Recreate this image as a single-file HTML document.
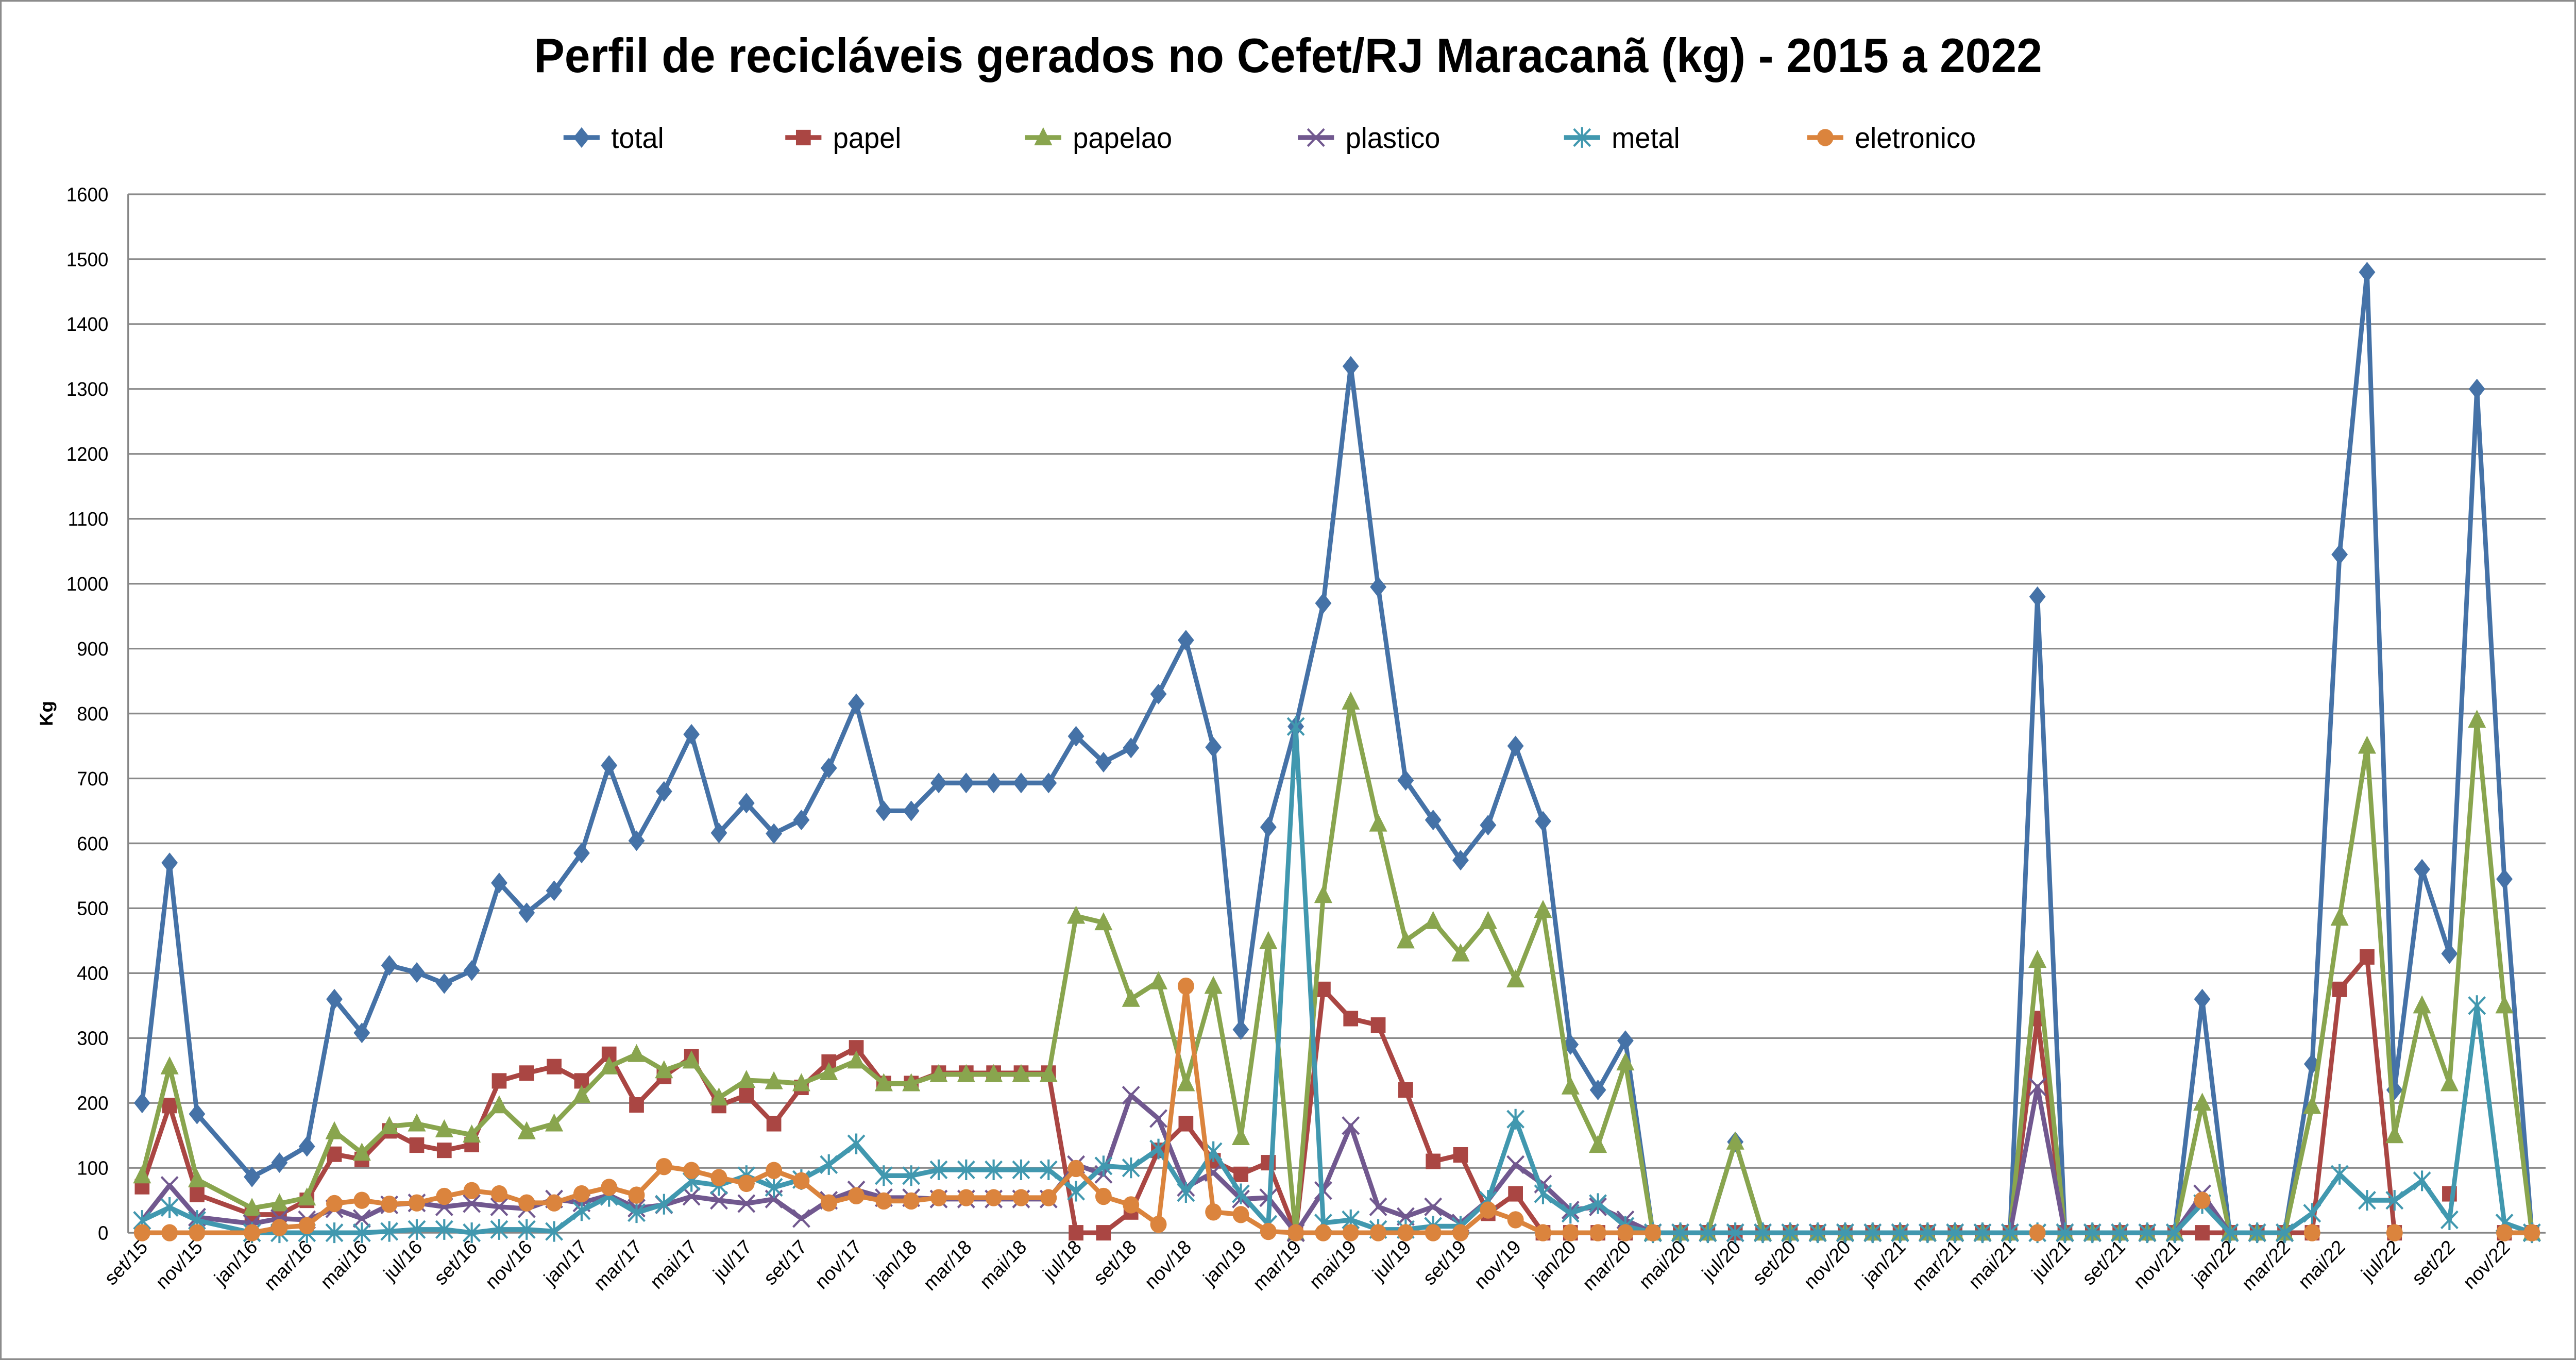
<!DOCTYPE html>
<html><head><meta charset="utf-8"><style>
html,body{margin:0;padding:0;background:#fff;overflow:hidden;width:100%;height:100%;}
svg{display:block;position:fixed;left:0;top:0;width:100vw;height:100vh;}
</style></head><body>
<svg id="c" xmlns="http://www.w3.org/2000/svg" viewBox="0 0 1568 791" preserveAspectRatio="none" font-family="Liberation Sans, sans-serif">
<rect x="0.5" y="0.5" width="1567" height="790" fill="#fff" stroke="#8c8c8c" stroke-width="1"/>
<text x="784" y="42" text-anchor="middle" font-size="28" font-weight="bold">Perfil de recicláveis gerados no Cefet/RJ Maracanã (kg) - 2015 a 2022</text>
<text transform="translate(32,415) rotate(-90)" text-anchor="middle" font-size="11" font-weight="bold">Kg</text>
<g id="grid"></g><g id="ser"></g><g id="leg"></g>
</svg>
<script>
var NS="http://www.w3.org/2000/svg";
function el(t,a,p,txt){var e=document.createElementNS(NS,t);for(var k in a)e.setAttribute(k,a[k]);if(txt!=null)e.textContent=txt;p.appendChild(e);return e;}
function X(i){return 86.5+16.72*i;}
function Y(v){return 717-v*0.3775;}
var g=document.getElementById('grid');
for(var v=0;v<=1600;v+=100){
 el('line',{x1:78,x2:1549.5,y1:Y(v),y2:Y(v),stroke:v==0?'#868686':'#8a8a8a','stroke-width':1},g);
 el('text',{x:66,y:Y(v)+4,'text-anchor':'end','font-size':11.5},g,String(v));
}
el('line',{x1:78,x2:78,y1:Y(1600),y2:717,stroke:'#868686','stroke-width':1},g);
var mn=['jan','fev','mar','abr','mai','jun','jul','ago','set','out','nov','dez'];
for(var i=0;i<88;i+=2){var m=(8+i)%12,yr=15+Math.floor((8+i)/12);
 var x=X(i)+4,y=726;
 el('text',{x:x,y:y,'text-anchor':'end','font-size':11.5,transform:'rotate(-45 '+x+' '+y+')'},g,mn[m]+'/'+yr);
}
function Z(n){var a=[];for(var k=0;k<n;k++)a.push(0);return a;}
function N(n){var a=[];for(var k=0;k<n;k++)a.push(null);return a;}
function mid(sp){var a=Z(23);for(var k in sp)a[k-56]=sp[k];return a;}
var total=[200,570,183,null,86,108,133,360,308,412,401,384,404,539,493,527,585,720,604,680,768,616,662,615,636,716,815,650,650,693,693,693,693,693,765,725,747,830,913,748,313,625,780,970,1335,995,697,636,574,628,750,634,290,220,296,0].concat(mid({58:140,69:980,75:360})).concat([260,1045,1480,220,560,430,1300,545,0]);
var papel=[71,196,59,null,28,28,50,121,113,157,135,127,136,234,246,256,234,275,197,241,271,196,212,168,224,263,285,230,230,246,246,246,246,246,0,0,32,127,168,111,90,108,0,375,330,320,220,110,120,30,60,0,0,0,0,0].concat(mid({69:330})).concat([0,375,425,0,null,60,null,0,0]);
var papelao=[88,256,82,null,38,45,54,156,123,164,168,159,151,196,156,168,212,256,275,250,265,208,235,233,230,247,265,230,230,244,244,244,244,244,488,478,360,387,230,380,147,449,0,520,818,630,450,480,430,480,390,497,225,135,262,0].concat(mid({58:140,69:420,75:200})).concat([195,485,750,150,350,230,790,350,0]);
var plastico=[19,73,24,null,14,22,20,37,22,43,46,40,45,40,37,52,46,58,38,43,56,50,45,52,22,50,66,54,54,52,52,52,52,52,105,90,212,176,70,93,52,54,0,65,165,40,25,40,15,50,105,75,35,40,20,0].concat(mid({69:225,75:60})).concat(N(9));
var metal=[19,39,19,null,0,0,0,0,0,2,5,5,0,5,5,2,34,56,31,44,79,73,88,70,82,105,137,88,88,97,97,97,97,97,64,103,100,129,62,125,60,13,780,15,20,5,5,10,10,50,175,60,30,45,10,0].concat(mid({75:45})).concat([30,90,50,50,80,20,350,15,0]);
var elet=[0,0,0,null,0,8,11,45,50,44,46,56,65,60,46,46,60,70,58,102,96,85,76,96,80,46,57,49,49,54,54,54,54,54,99,56,43,13,380,32,28,2,0,0,0,0,0,0,0,35,20,0,0,0,0,0].concat(N(32));
elet[69]=0;elet[75]=50;elet[79]=0;elet[82]=0;elet[86]=0;elet[87]=0;
var S=[['total',total,'#4572A7','d'],['papel',papel,'#AA4643','s'],['papelao',papelao,'#89A54E','t'],['plastico',plastico,'#71588F','x'],['metal',metal,'#4198AF','a'],['eletronico',elet,'#DB843D','c']];
function mark(p,t,x,y,c){
 if(t=='d')el('path',{d:'M'+x+' '+(y-6)+'L'+(x+5)+' '+y+'L'+x+' '+(y+6)+'L'+(x-5)+' '+y+'Z',fill:c},p);
 else if(t=='s')el('rect',{x:x-4.5,y:y-4.5,width:9,height:9,fill:c},p);
 else if(t=='t')el('path',{d:'M'+x+' '+(y-6)+'L'+(x+5.5)+' '+(y+4.5)+'L'+(x-5.5)+' '+(y+4.5)+'Z',fill:c},p);
 else if(t=='x')el('path',{d:'M'+(x-5)+' '+(y-5)+'L'+(x+5)+' '+(y+5)+'M'+(x+5)+' '+(y-5)+'L'+(x-5)+' '+(y+5),stroke:c,'stroke-width':1.3,fill:'none'},p);
 else if(t=='a')el('path',{d:'M'+(x-5)+' '+(y-5)+'L'+(x+5)+' '+(y+5)+'M'+(x+5)+' '+(y-5)+'L'+(x-5)+' '+(y+5)+'M'+x+' '+(y-6)+'L'+x+' '+(y+6),stroke:c,'stroke-width':1.3,fill:'none'},p);
 else el('ellipse',{cx:x,cy:y,rx:5,ry:5,fill:c},p);
}
var sg=document.getElementById('ser');
S.forEach(function(s){
 var d=s[1],segs=[];var cur=[];
 for(var i=0;i<d.length;i++){
  if(d[i]==null){if(i==3)continue;if(cur.length)segs.push(cur);cur=[];}
  else cur.push(X(i).toFixed(1)+','+Y(d[i]).toFixed(1));
 }
 if(cur.length)segs.push(cur);
 segs.forEach(function(sg2){if(sg2.length>1)el('polyline',{points:sg2.join(' '),fill:'none',stroke:s[2],'stroke-width':2.8,'stroke-linejoin':'round'},sg);});
 for(var i=0;i<d.length;i++)if(d[i]!=null)mark(sg,s[3],X(i),Y(d[i]),s[2]);
});
var lg=document.getElementById('leg');
var lx=[343,478,624,790,952,1100];
S.forEach(function(s,k){
 var x=lx[k];
 el('line',{x1:x,x2:x+22,y1:80,y2:80,stroke:s[2],'stroke-width':2.8},lg);
 mark(lg,s[3],x+11,80,s[2]);
 el('text',{x:x+29,y:86,'font-size':17},lg,s[0]);
});
</script>
</body></html>
